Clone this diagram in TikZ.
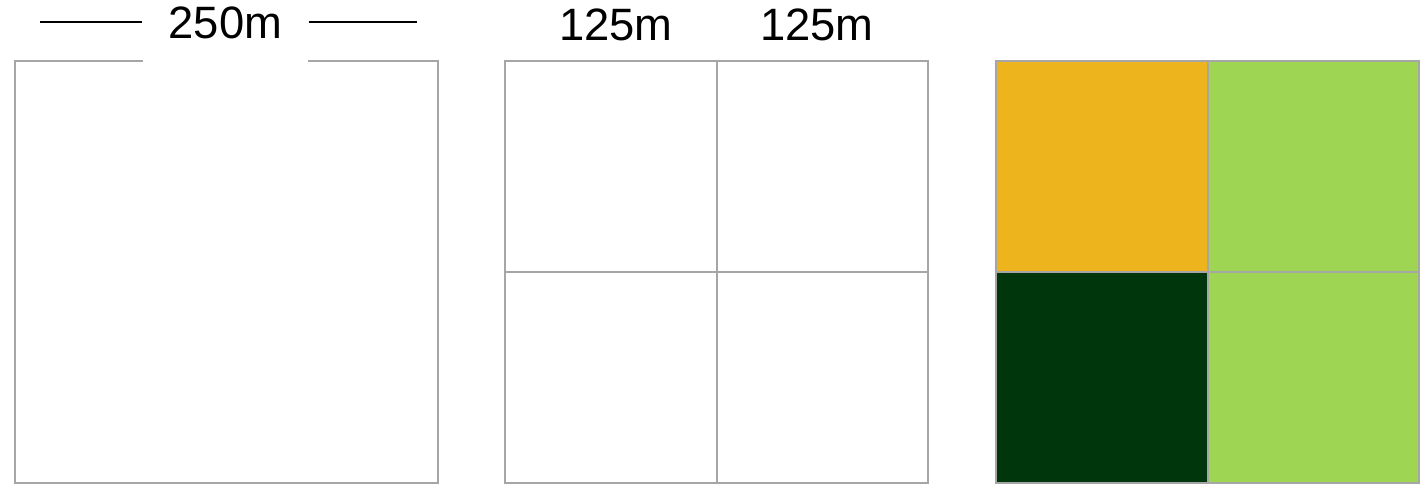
\documentclass[tikz,border=0pt]{standalone}
\usepackage{fontspec}
\setmainfont{Liberation Sans}
\definecolor{gridgray}{HTML}{A6A6A6}
\definecolor{cropamber}{HTML}{EDB41E}
\definecolor{cropgreen}{HTML}{9ED553}
\definecolor{forestdark}{HTML}{00360C}
\tikzset{
  cell/.style={draw=gridgray, line width=0.8pt},
  dimlabel/.style={font=\fontsize{12.9}{15}\selectfont, inner sep=0pt}
}
\begin{document}
\begin{tikzpicture}[x=0.01cm, y=-0.01cm]
        \useasboundingbox (0,0) rectangle (1425,484);
        % Parcela completa 250m
        \draw[cell, fill=white] (15,61) rectangle (438,483);
        % Cota superior con fondo blanco que tapa el borde
        \node[dimlabel, fill=white, minimum width=1.65cm, minimum height=0.8cm] (full) at (225.5,23) {250m};
        \coordinate (fullL) at (40,22);
        \coordinate (fullR) at (417,22);
        \draw[line width=0.6pt] (fullL) -- (fullL -| full.west);
        \draw[line width=0.6pt] (fullR -| full.east) -- (fullR);

        % Parcela dividida en cuatro celdas de 125m
        \draw[cell] (505,61) rectangle (928,483);
        \draw[cell] (717,61) -- (717,483);
        \draw[cell] (505,272) -- (928,272);
        \node[dimlabel] (halfA) at (616,25) {125m};
        \node[dimlabel] (halfB) at (817,25) {125m};

        % Celdas clasificadas por color
        \fill[cropamber] (996,61) rectangle (1208,272);
        \fill[cropgreen] (1208,61) rectangle (1419,272);
        \fill[forestdark] (996,272) rectangle (1208,483);
        \fill[cropgreen] (1208,272) rectangle (1419,483);
        \draw[cell] (996,61) rectangle (1419,483);
        \draw[cell] (1208,61) -- (1208,483);
        \draw[cell] (996,272) -- (1419,272);
    \end{tikzpicture}
\end{document}
